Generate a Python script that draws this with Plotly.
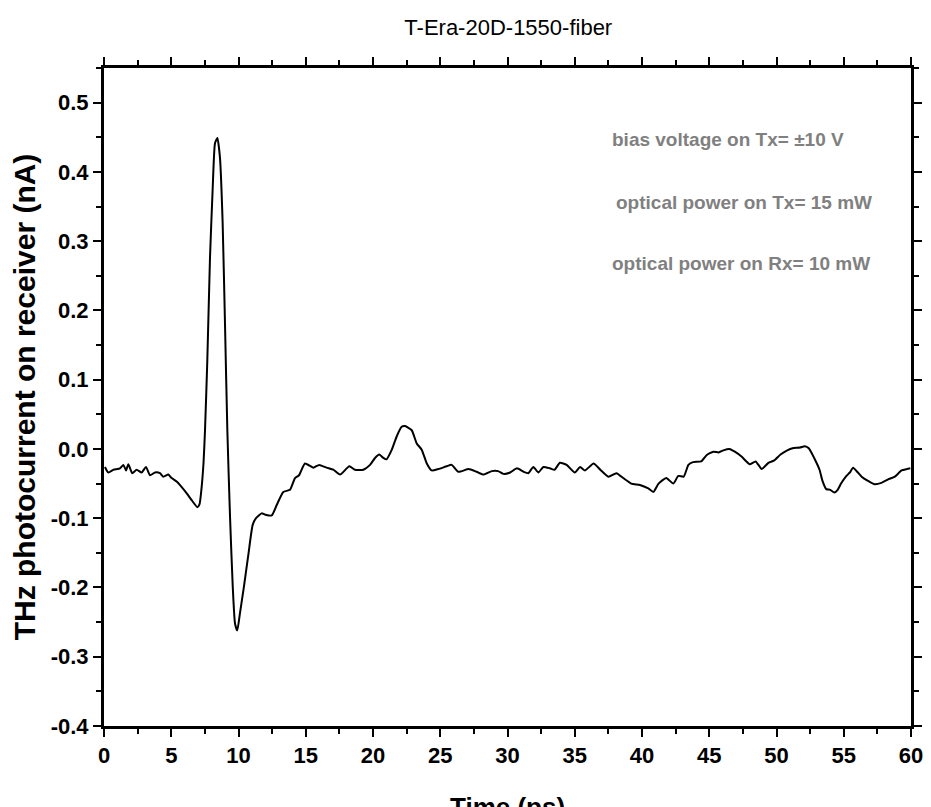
import plotly.graph_objects as go

time_ps = [0.07, 0.32, 0.7, 1.19, 1.44, 1.64, 1.81, 2.1, 2.43, 2.8, 3.12, 3.42, 3.79, 4.16, 4.41,
           4.78, 5.03, 5.4, 5.78, 6.15, 6.52, 6.94, 7.1, 7.26, 7.4, 7.51, 7.68, 7.88, 8.08, 8.25,
           8.43, 8.62, 8.82, 9.0, 9.17, 9.37, 9.57, 9.74, 9.91, 10.11, 10.41, 10.73, 11.05, 11.3,
           11.72, 12.0, 12.47, 12.84, 13.33, 13.83, 14.2, 14.5, 14.94, 15.56, 16.0, 16.55, 17.05,
           17.55, 18.24, 18.66, 19.28, 19.78, 20.15, 20.47, 20.77, 21.0, 21.4, 21.76, 22.13, 22.38,
           22.88, 23.25, 23.62, 24.0, 24.36, 24.86, 25.48, 25.85, 26.35, 27.1, 27.7, 28.2, 28.83,
           29.3, 29.7, 30.2, 30.7, 31.2, 31.55, 31.92, 32.3, 32.66, 33.16, 33.5, 33.9, 34.4, 35.0,
           35.4, 35.76, 36.4, 36.9, 37.5, 38.1, 38.6, 39.2, 39.85, 40.47, 40.85, 41.23, 41.8, 42.33,
           42.7, 43.1, 43.45, 43.8, 44.4, 44.8, 45.3, 45.7, 46.05, 46.5, 46.9, 47.4, 48.0, 48.45,
           48.9, 49.4, 49.8, 50.3, 50.8, 51.2, 51.75, 52.1, 52.4, 52.8, 53.2, 53.4, 53.7, 54.0,
           54.3, 54.55, 54.8, 55.2, 55.45, 55.7, 56.0, 56.33, 56.8, 57.3, 57.8, 58.3, 58.8, 59.3,
           59.7, 59.95]

current_nA = [-0.026, -0.034, -0.030, -0.028, -0.023, -0.031, -0.022, -0.035, -0.030, -0.034,
              -0.026, -0.038, -0.034, -0.035, -0.040, -0.037, -0.042, -0.047, -0.055, -0.064,
              -0.074, -0.084, -0.080, -0.055, -0.020, 0.027, 0.127, 0.276, 0.376, 0.441,
              0.449, 0.421, 0.327, 0.177, 0.027, -0.098, -0.198, -0.252, -0.262, -0.237,
              -0.198, -0.153, -0.110, -0.100, -0.093, -0.095, -0.096, -0.081, -0.062, -0.059,
              -0.042, -0.038, -0.021, -0.027, -0.023, -0.027, -0.030, -0.037, -0.025, -0.030,
              -0.030, -0.023, -0.013, -0.008, -0.013, -0.015, -0.001, 0.018, 0.032, 0.033,
              0.027, 0.008, -0.001, -0.021, -0.031, -0.029, -0.025, -0.023, -0.033, -0.029,
              -0.033, -0.037, -0.032, -0.032, -0.036, -0.034, -0.028, -0.033, -0.035, -0.026,
              -0.034, -0.026, -0.028, -0.030, -0.020, -0.023, -0.034, -0.026, -0.031, -0.021,
              -0.030, -0.040, -0.035, -0.042, -0.050, -0.052, -0.057, -0.062, -0.050, -0.042,
              -0.050, -0.039, -0.040, -0.023, -0.019, -0.018, -0.009, -0.004, -0.005, -0.002,
              0.000, -0.004, -0.011, -0.022, -0.018, -0.029, -0.020, -0.017, -0.008, -0.002,
              0.001, 0.002, 0.004, 0.001, -0.013, -0.030, -0.045, -0.058, -0.059, -0.063,
              -0.059, -0.050, -0.039, -0.034, -0.027, -0.033, -0.040, -0.046, -0.051, -0.049,
              -0.044, -0.040, -0.031, -0.029, -0.028]

x_ticks = [0, 5, 10, 15, 20, 25, 30, 35, 40, 45, 50, 55, 60]
y_ticks = [-0.4, -0.3, -0.2, -0.1, 0.0, 0.1, 0.2, 0.3, 0.4, 0.5]
y_tick_labels = ["-0.4", "-0.3", "-0.2", "-0.1", "0.0", "0.1", "0.2", "0.3", "0.4", "0.5"]

notes = ["bias voltage on Tx= \u00b110 V", "optical power on Tx= 15 mW", "optical power on Rx= 10 mW"]
note_x = [37.6, 37.9, 37.65]
note_y = [0.447, 0.356, 0.268]

FONT = "Liberation Sans, Arial, sans-serif"

fig = go.Figure()
fig.add_trace(go.Scatter(x=time_ps, y=current_nA, mode="lines",
                         line=dict(color="black", width=2, shape="spline", smoothing=0.5),
                         showlegend=False))

axis_common = dict(showline=True, linewidth=3, linecolor="black", mirror="ticks",
                   ticks="outside", ticklen=8, tickwidth=2, tickcolor="black",
                   showgrid=False, zeroline=False, automargin=False,
                   tickfont=dict(family=FONT, size=22, color="black", weight="bold"))

fig.update_xaxes(range=[0, 60], tickvals=x_ticks,
                 minor=dict(ticks="outside", ticklen=5, tickwidth=2, tickcolor="black", dtick=2.5),
                 **axis_common)
fig.update_yaxes(range=[-0.4, 0.55], tickvals=y_ticks, ticktext=y_tick_labels,
                 minor=dict(ticks="outside", ticklen=5, tickwidth=2, tickcolor="black", dtick=0.05,
                            tick0=0),
                 title=dict(text="THz photocurrent on receiver (nA)", standoff=14,
                            font=dict(family=FONT, size=30, color="black", weight="bold")),
                 **axis_common)

# x-axis title (placed low, partly cut by the page edge as in the reference)
fig.add_annotation(x=0.5, xref="paper", y=-0.098, yref="paper", yanchor="top",
                   text="Time (ps)", showarrow=False,
                   font=dict(family=FONT, size=26, color="black", weight="bold"))

for t, nx, ny in zip(notes, note_x, note_y):
    fig.add_annotation(x=nx, y=ny, text=t, showarrow=False, xanchor="left", yanchor="middle",
                       font=dict(family=FONT, size=19, color="#808080", weight="bold"))

fig.update_layout(
    width=923, height=799,
    margin=dict(l=96, r=20, t=60, b=81),
    plot_bgcolor="white", paper_bgcolor="white",
    title=dict(text="T-Era-20D-1550-fiber", x=0.542, xanchor="center", y=0.976, yanchor="middle",
               font=dict(family=FONT, size=22, color="black")),
)

fig.write_html("out.html")
